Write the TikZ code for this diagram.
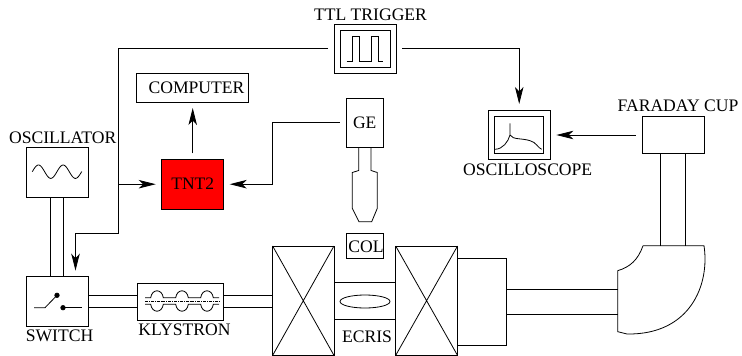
\documentclass[tikz,border=0pt]{standalone}
\usepackage{fontspec}
\setmainfont{Liberation Serif}
\usepackage{tikz}
\usetikzlibrary{arrows.meta, calc, positioning}
\tikzset{>={Stealth[length=17pt,width=8.5pt,inset=4.5pt]}}
\tikzset{devbox/.style={draw,line width=0.8pt,inner sep=0pt,outer sep=0pt,font=\fontsize{17.5}{20}\selectfont}}
\tikzset{lbl/.style={inner sep=0pt,anchor=base,font=\fontsize{17.6}{20}\selectfont}}
\tikzset{sig/.style={line width=0.8pt,->}}
\definecolor{myred}{HTML}{FF0000}

\begin{document}
\begin{tikzpicture}[x=1pt,y=-1pt,line width=0.8pt]
	\useasboundingbox (0,0) rectangle (742,356);
	% instruments
	\node [devbox,minimum width=62pt,minimum height=49pt] (ttl) at (365,48.5) {};
	\node [devbox,minimum width=50pt,minimum height=37pt] (ttlin) at (365,48.5) {};
	\node [devbox,minimum width=112pt,minimum height=29pt] (computer) at (192,87.5) {};
	\node [devbox,fill=myred,minimum width=62pt,minimum height=49.5pt] (tnt) at (192.7,184.2) {TNT2};
	\node [devbox,minimum width=37.5pt,minimum height=49pt] (ge) at (364.7,122.5) {GE};
	\node [devbox,minimum width=37.3pt,minimum height=25.3pt] (col) at (364.7,245.6) {};
	\node [devbox,minimum width=62pt,minimum height=50pt] (osc) at (57,172) {};
	\node [devbox,minimum width=62pt,minimum height=49.3pt] (switch) at (57,301.5) {};
	\node [devbox,minimum width=86.5pt,minimum height=37pt] (klystron) at (180.2,301.5) {};
	\node [devbox,minimum width=61.3pt,minimum height=109.3pt] (coilA) at (303.3,300.7) {};
	\node [devbox,minimum width=61.7pt,minimum height=36.6pt] (ecris) at (364.8,301) {};
	\node [devbox,minimum width=61.8pt,minimum height=109.3pt] (coilB) at (426.6,300.7) {};
	\node [devbox,minimum width=49.2pt,minimum height=87pt] (chamber) at (482.1,301.6) {};
	\node [devbox,minimum width=61.7pt,minimum height=48.6pt] (scope) at (519.2,135) {};
	\node [devbox,minimum width=49.2pt,minimum height=36.3pt] (scopein) at (518.9,134.9) {};
	\node [devbox,minimum width=61.7pt,minimum height=36.6pt] (faraday) at (673.2,135) {};
	% labels
	\node [lbl] (ttllabel) at (370.5,20) {TTL TRIGGER};
	\node [lbl] (computerlabel) at (196.5,93.3) {COMPUTER};
	\node [lbl] (osclabel) at (62.7,143.3) {OSCILLATOR};
	\node [lbl] (switchlabel) at (59.5,341.7) {SWITCH};
	\node [lbl] (klystronlabel) at (184.5,335.7) {KLYSTRON};
	\node [lbl] (collabel) at (366,252.3) {COL};
	\node [lbl] (ecrislabel) at (367,342) {ECRIS};
	\node [lbl] (scopelabel) at (527.7,175) {OSCILLOSCOPE};
	\node [lbl] (faradaylabel) at (678,111.7) {FARADAY CUP};
	% signal lines
	\coordinate (trigdown) at (118.5,233);
	\coordinate (switchin) at (75.5,276.7);
	\coordinate (branch) at (118.5,184.2);
	\coordinate (gebend) at (272.7,122.5);
	\draw [sig,shorten <=6pt,shorten >=6pt] (ttl.west) -| (trigdown) -| (switchin);
	\draw [sig,shorten >=6pt] (branch) -- (tnt.west);
	\draw [sig,shorten <=6pt,shorten >=6.7pt] (ttl.east) -| (scope.north);
	\draw [sig,shorten <=6pt,shorten >=6pt] (ge.west) -- (gebend) |- (tnt.east);
	\draw [sig,shorten <=6pt,shorten >=6pt] (tnt.north) -- (tnt.north |- computer.south);
	\draw [sig,shorten <=6.6pt,shorten >=6.3pt] (faraday.west) -- (scope.east |- faraday.west);
	% wave guides and tubes
	\coordinate (coilin) at (coilA.west |- klystron.east);
	\foreach \off in {-6.3,6.3} {
		\draw ([xshift=\off pt]osc.south) -- ([xshift=\off pt]switch.north);
		\draw ([yshift=\off pt]switch.east) -- ([yshift=\off pt]klystron.west);
		\draw ([yshift=\off pt]klystron.east) -- ([yshift=\off pt]coilin);
	}
	\coordinate (magtop) at (673.2,245.7);
	\coordinate (magin) at (617.7,301.6);
	\foreach \off in {-12.5,12.5} {
		\draw ([xshift=\off pt]faraday.south) -- ([xshift=\off pt]magtop);
		\draw ([yshift=\off pt]chamber.east) -- ([yshift=\off pt]magin);
	}
	% coils
	\draw (coilA.north west) -- (coilA.south east) (coilA.south west) -- (coilA.north east);
	\draw (coilB.north west) -- (coilB.south east) (coilB.south west) -- (coilB.north east);
	% bending magnet
	\draw (643,245.7) -- (704,245.7) .. controls (710,285) and (690,335) .. (627,334) -- (617.7,331.7) -- (617.7,270.7) .. controls (630,267) and (638,260) .. (643,245.7);
	% electron gun
	\draw (358.7,147) -- (358.7,170.5) -- (352.3,172.5) -- (352.3,208.3) -- (359,221.7) -- (371.7,221.7) -- (377.3,208.3) -- (377.3,172.5) -- (371,170.5) -- (371,147);
	% ecris plasma
	\draw (365,301.5) ellipse (25 and 6.5);
	% pulses
	\draw (346.7,61) -- (352.7,61) -- (352.7,36) -- (359.3,36) -- (359.3,61) -- (371.7,61) -- (371.7,36) -- (378.3,36) -- (378.3,61) -- (383.3,61);
	% oscillator wave
	\draw plot [smooth,domain=32.3:81.7,samples=60] (\x,{171.7-6.7*sin(14.6*(\x-32.3))});
	% switch
	\draw (34,307.7) -- (45,307.7) -- (57,295.3);
	\filldraw (57,295.3) circle (2.2);
	\filldraw (63,307.7) circle (2.2);
	\draw (63,307.7) -- (81.7,307.7);
	% klystron cavities
	\draw (145,297.7) -- (150.7,297.7) .. controls (152,288.5) and (162,288.5) .. (163.3,297.7) -- (175.7,297.7) .. controls (177,288.5) and (187,288.5) .. (188.3,297.7) -- (200.7,297.7) .. controls (202,288.5) and (212,288.5) .. (213.3,297.7) -- (219,297.7);
	\draw (145,304.3) -- (150.7,304.3) .. controls (152,313.5) and (162,313.5) .. (163.3,304.3) -- (175.7,304.3) .. controls (177,313.5) and (187,313.5) .. (188.3,304.3) -- (200.7,304.3) .. controls (202,313.5) and (212,313.5) .. (213.3,304.3) -- (219,304.3);
	\draw [densely dashdotted,line width=0.5pt] (145,301) -- (219,301);
	% scope trace
	\draw (495,149.3) .. controls (503,149) and (508,142) .. (510,135) -- (510,123.3) -- (510,135) .. controls (513,140) and (522,138) .. (530,140.7) .. controls (536,142) and (538,148) .. (541.7,149.3);
\end{tikzpicture}
\end{document}
